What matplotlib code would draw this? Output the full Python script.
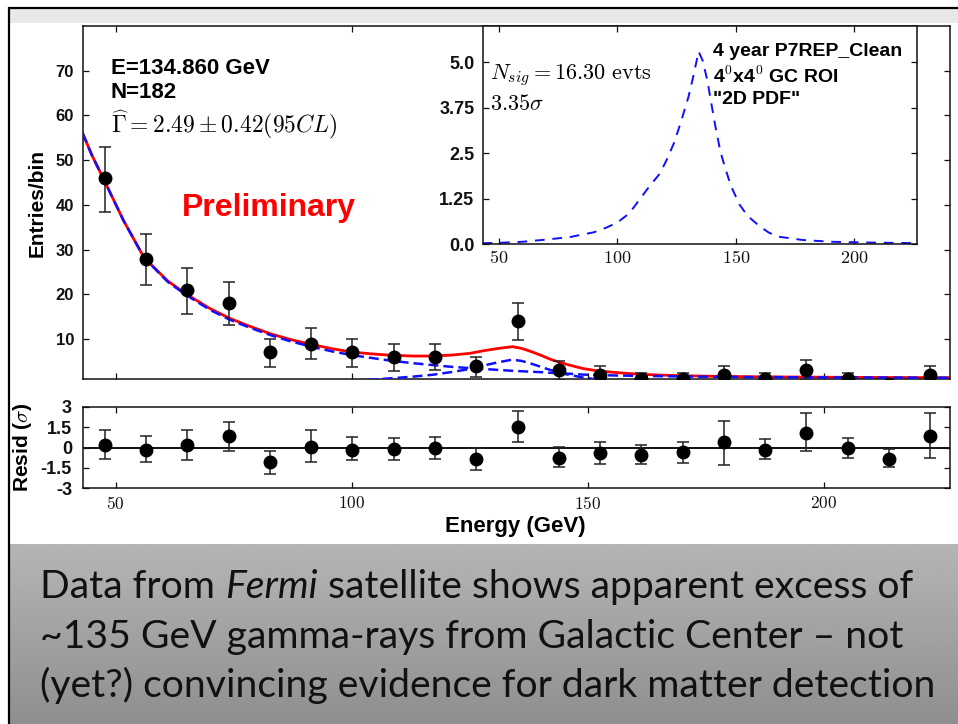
import matplotlib
matplotlib.use('Agg')
import matplotlib.pyplot as plt
import numpy as np
from matplotlib.patches import Rectangle

# ---------------- data ----------------
bin_energy = [47.7, 56.4, 65.2, 73.9, 82.7, 91.4, 100.1, 108.9, 117.6, 126.4, 135.1,
              143.8, 152.6, 161.3, 170.1, 178.8, 187.5, 196.3, 205.0, 213.8, 222.5]
counts = [46, 28, 21, 18, 7, 9, 7, 6, 6, 4, 14, 3, 2, 1, 1, 2, 1, 3, 1, 0, 2]
count_lo = [38.5, 22.1, 15.7, 13.1, 3.8, 5.5, 3.8, 2.9, 3.0, 1.5, 9.8,
            0.9, 0.2, 0.0, 0.0, 0.2, 0.0, 0.9, 0.0, 0.0, 0.2]
count_hi = [53.0, 33.6, 25.9, 22.7, 9.9, 12.4, 9.9, 8.8, 8.8, 6.0, 18.1,
            5.1, 4.0, 2.5, 2.5, 4.0, 2.5, 5.3, 2.5, 0.0, 4.0]

resid = [0.2, -0.17, 0.2, 0.81, -1.03, 0.07, -0.17, -0.12, -0.05, -0.86, 1.54,
         -0.74, -0.42, -0.54, -0.34, 0.37, -0.17, 1.1, -0.05, -0.86, 0.88]
resid_lo = [-0.86, -1.03, -0.9, -0.29, -1.96, -1.1, -0.9, -0.9, -0.83, -1.64, 0.39,
            -1.47, -1.23, -1.23, -1.15, -1.27, -0.83, -0.29, -0.74, -1.47, -0.74]
resid_hi = [1.3, 0.81, 1.3, 1.91, -0.25, 1.3, 0.78, 0.69, 0.78, -0.05, 2.65,
            0.07, 0.39, 0.2, 0.39, 1.96, 0.61, 2.57, 0.69, -0.1, 2.57]

model_energy = [43, 45, 47.7, 51.6, 56, 61, 65, 70, 74, 78, 83, 87, 91, 96, 100, 104,
                108, 113, 117, 121, 125, 128, 131, 134, 136, 138, 140, 142, 144, 146,
                149, 152, 156, 160, 165, 170, 176, 185, 195, 205, 215, 227]
model_total = [56.0, 51.0, 45.2, 36.6, 28.2, 23.0, 20.0, 16.8, 14.7, 13.0, 11.1, 9.9,
               8.9, 7.8, 7.1, 6.7, 6.4, 6.2, 6.2, 6.4, 6.8, 7.4, 7.9, 8.3, 7.9, 7.2,
               6.4, 5.5, 4.8, 4.2, 3.4, 2.9, 2.5, 2.2, 1.95, 1.8, 1.68, 1.57, 1.5,
               1.44, 1.4, 1.36]
model_background = [56.0, 51.0, 45.2, 36.6, 28.2, 22.8, 19.8, 16.5, 14.4, 12.7, 10.8,
                    9.5, 8.4, 7.2, 6.4, 5.8, 5.2, 4.6, 4.2, 3.8, 3.5, 3.3, 3.1, 2.9,
                    2.8, 2.7, 2.6, 2.45, 2.35, 2.25, 2.05, 1.95, 1.85, 1.78, 1.7,
                    1.63, 1.57, 1.5, 1.45, 1.4, 1.37, 1.34]
model_signal = [0.15, 0.16, 0.18, 0.2, 0.22, 0.25, 0.28, 0.3, 0.33, 0.37, 0.42, 0.48,
                0.55, 0.63, 0.72, 0.9, 1.2, 1.6, 2.0, 2.6, 3.3, 4.1, 4.8, 5.4, 5.1,
                4.5, 3.8, 3.1, 2.45, 2.0, 1.4, 0.95, 0.65, 0.45, 0.3, 0.2, 0.12,
                0.07, 0.05, 0.04, 0.03, 0.02]

pdf_energy = [43, 50, 60, 70, 80, 90, 95, 100, 105, 109, 113, 118, 121, 124, 127, 130,
              132, 134.3, 136, 138, 140, 141.5, 143.5, 145.5, 148, 151.5, 155, 160,
              164, 168, 178, 190, 205, 227]
pdf_value = [0.03, 0.04, 0.07, 0.13, 0.2, 0.33, 0.45, 0.6, 0.85, 1.2, 1.55, 1.95, 2.35,
             2.8, 3.4, 4.05, 4.6, 5.3, 5.05, 4.5, 3.75, 3.2, 2.55, 2.1, 1.6, 1.1, 0.78,
             0.5, 0.32, 0.21, 0.12, 0.07, 0.05, 0.03]

energy_ticks = [50, 100, 150, 200]
energy_tick_labels = ['$50$', '$100$', '$150$', '$200$']
count_ticks = [10, 20, 30, 40, 50, 60, 70]
pdf_ticks = [0.0, 1.25, 2.5, 3.75, 5.0]
pdf_tick_labels = ['0.0', '1.25', '2.5', '3.75', '5.0']
resid_ticks = [3, 1.5, 0, -1.5, -3]
resid_tick_labels = ['3', '1.5', '0', '-1.5', '-3']

caption_lines = [
    [("Data from", "normal"), (" ", None), ("Fermi", "italic"), (" ", None),
     ("satellite shows apparent excess of", "normal")],
    [("~135 GeV gamma-rays from Galactic Center \u2013 not", "normal")],
    [("(yet?) convincing evidence for dark matter detection", "normal")],
]

# ---------------- figure ----------------
W, H, DPI = 958, 724, 100
plt.rcParams['font.family'] = ['Liberation Sans', 'DejaVu Sans']
plt.rcParams['mathtext.fontset'] = 'cm'
plt.rcParams['axes.unicode_minus'] = False

fig = plt.figure(figsize=(W / DPI, H / DPI), dpi=DPI)
fig.patch.set_facecolor('white')


def frect(l, t, r, b):
    return [l / W, 1 - b / H, (r - l) / W, (b - t) / H]


def ftext(x, y, s, **kw):
    return fig.text(x / W, 1 - y / H, s, **kw)


# slide background
axbg = fig.add_axes([0, 0, 1, 1], zorder=-10)
axbg.set_xlim(0, W)
axbg.set_ylim(H, 0)
axbg.axis('off')
axbg.add_patch(Rectangle((10, 8), W - 10, 15, facecolor='#e8e8e8', edgecolor='none'))
grad = np.linspace(0.71, 0.56, 200)[:, None] * np.ones((1, 2))
axbg.imshow(grad, cmap='gray', vmin=0, vmax=1, extent=(10, W, H, 544), aspect='auto',
            interpolation='bilinear')
axbg.plot([9.5, W], [7.5, 7.5], color='black', lw=1.6, solid_capstyle='butt')
axbg.plot([9.5, 9.5], [7, H], color='black', lw=1.6, solid_capstyle='butt')
axbg.set_xlim(0, W)
axbg.set_ylim(H, 0)

xlim = (43.07, 226.7)
spine_lw = 1.1


def style_axes(ax):
    for s in ax.spines.values():
        s.set_linewidth(spine_lw)
        s.set_color('#111111')
    ax.tick_params(direction='in', top=True, right=True, length=4.5, width=0.9,
                   colors='#111111')


# ---- main panel ----
axm = fig.add_axes(frect(83, 26, 950, 379.3))
style_axes(axm)
axm.plot(model_energy, model_total, color='#ff0000', lw=2.0, zorder=2)
axm.plot(model_energy, model_background, color='#1010ff', lw=1.8,
         linestyle=(0, (4, 2)), zorder=3)
axm.plot(model_energy, model_signal, color='#1010ff', lw=1.8,
         linestyle=(0, (4, 2)), zorder=3)
cnt = np.array(counts, float)
axm.errorbar(bin_energy, counts,
             yerr=[cnt - np.array(count_lo), np.array(count_hi) - cnt],
             fmt='o', ms=9, color='black', ecolor='#222222', elinewidth=1.1,
             capsize=4.5, capthick=1.1, zorder=4)
axm.set_xlim(*xlim)
axm.set_ylim(1, 80)
axm.set_xticks(energy_ticks)
axm.set_xticklabels([])
axm.set_yticks(count_ticks)
axm.tick_params(axis='y', labelsize=12, pad=6.5)
for lab in axm.get_yticklabels():
    lab.set_fontweight('bold')

# ---- inset ----
axi = fig.add_axes(frect(482.7, 26, 917.3, 244.3), zorder=5)
style_axes(axi)
axi.plot(pdf_energy, pdf_value, color='#1010ff', lw=1.4, linestyle=(0, (5, 4)))
axi.set_xlim(*xlim)
axi.set_ylim(0, 6)
axi.set_xticks(energy_ticks)
axi.set_xticklabels(energy_tick_labels)
axi.set_yticks(pdf_ticks)
axi.set_yticklabels(pdf_tick_labels)
axi.tick_params(axis='y', labelsize=13, pad=6)
axi.tick_params(axis='x', labelsize=13, pad=4)
for lab in axi.get_yticklabels():
    lab.set_fontweight('bold')

# ---- residuals ----
axr = fig.add_axes(frect(83, 406.7, 950, 488.3))
style_axes(axr)
axr.axhline(0, color='#111111', lw=1.4, zorder=1)
res = np.array(resid)
axr.errorbar(bin_energy, resid,
             yerr=[res - np.array(resid_lo), np.array(resid_hi) - res],
             fmt='o', ms=9, color='black', ecolor='#222222', elinewidth=1.1,
             capsize=4.5, capthick=1.1, zorder=4)
axr.set_xlim(*xlim)
axr.set_ylim(-3, 3)
axr.set_xticks(energy_ticks)
axr.set_xticklabels(energy_tick_labels)
axr.set_yticks(resid_ticks)
axr.set_yticklabels(resid_tick_labels)
axr.tick_params(axis='y', labelsize=13, pad=8)
axr.tick_params(axis='x', labelsize=12.5, pad=5)
for lab in axr.get_yticklabels():
    lab.set_fontweight('bold')

# ---- labels & annotations ----
ftext(37, 203, 'Entries/bin', rotation=90, fontsize=15, ha='center', va='center',
      fontweight='bold')
ftext(23, 447.5, r'Resid ($\sigma$)', rotation=90, fontsize=15, ha='center',
      va='center', fontweight='bold')
ftext(515, 526.7, 'Energy (GeV)', fontsize=16, ha='center', va='center',
      fontweight='bold')

ftext(111, 68, 'E=134.860 GeV', fontsize=16, ha='left', va='center', fontweight='bold')
ftext(111, 93, 'N=182', fontsize=16, ha='left', va='center', fontweight='bold')
ftext(111, 125, r'$\widehat{\Gamma} = 2.49 \pm 0.42 (95CL)$', fontsize=17,
      ha='left', va='center')
ftext(182, 208, 'Preliminary', fontsize=23, color='#ff0000', ha='left', va='center',
      fontweight='bold')

ftext(490, 75, r'$N_{sig} = 16.30\ \mathrm{evts}$', fontsize=16, ha='left',
      va='center', zorder=10)
ftext(490, 104, r'$3.35\sigma$', fontsize=16, ha='left', va='center', zorder=10)
ftext(713, 51, '4 year P7REP_Clean', fontsize=14, ha='left', va='center', zorder=10,
      fontweight='bold')
ftext(713, 76, r'4$^0$x4$^0$ GC ROI', fontsize=14, ha='left', va='center', zorder=10,
      fontweight='bold')
ftext(713, 100, '"2D PDF"', fontsize=14, ha='left', va='center', zorder=10,
      fontweight='bold')

# ---- caption (fit line 1 to its width in the slide) ----
cap_family = ['Lato', 'DejaVu Sans']
renderer = fig.canvas.get_renderer()


def measure(s, size, style='normal'):
    t = fig.text(0, 0, s, fontsize=size, family=cap_family, style=style)
    w = t.get_window_extent(renderer).width
    t.remove()
    return w


def space_width(size):
    return measure('a a', size) - measure('aa', size)


def line_width(pieces, size):
    return sum(space_width(size) if st is None else measure(s, size, st)
               for s, st in pieces)


size0 = 25.0
size = size0 * 875.0 / line_width(caption_lines[0], size0)
baselines = [598, 648, 697]
for pieces, yb in zip(caption_lines, baselines):
    x = 40.0
    for s, st in pieces:
        if st is None:
            x += space_width(size)
            continue
        ftext(x, yb, s, fontsize=size, family=cap_family, style=st,
              ha='left', va='baseline', color='#111111')
        x += measure(s, size, st)

fig.savefig('out.png', dpi=DPI)
